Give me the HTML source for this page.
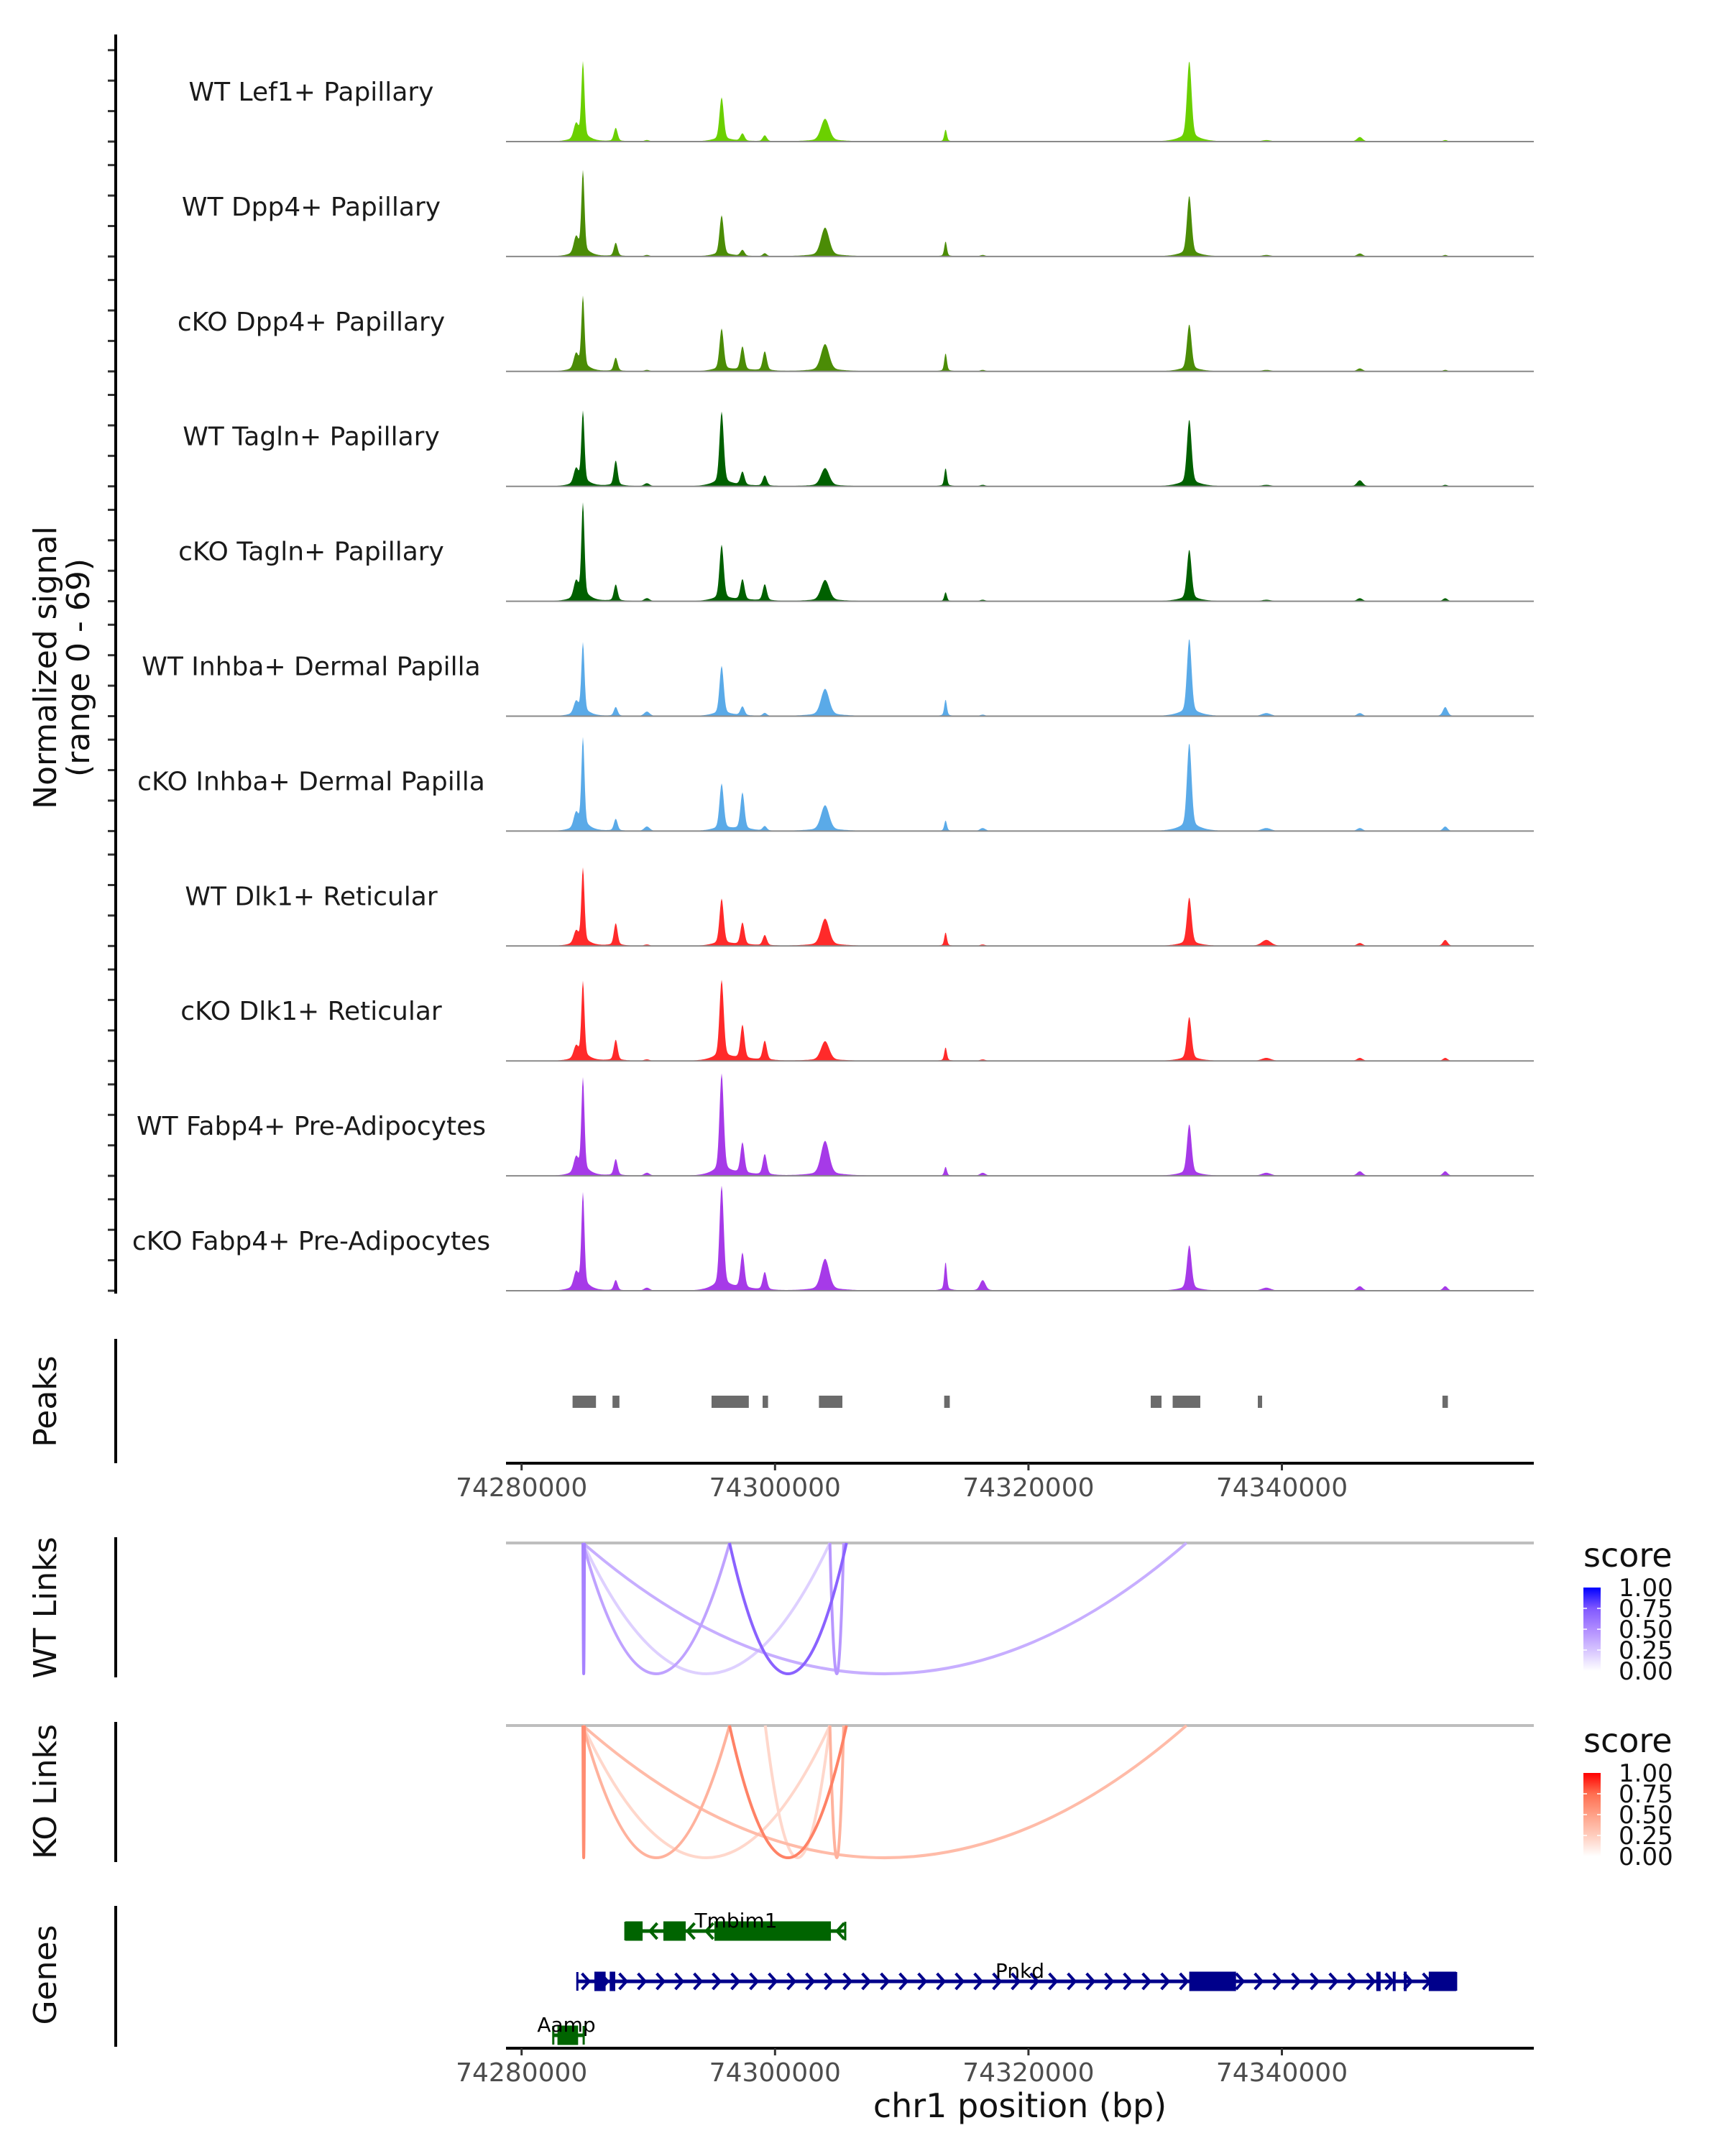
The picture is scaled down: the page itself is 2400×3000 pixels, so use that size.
<!DOCTYPE html>
<html><head><meta charset="utf-8">
<style>
html,body{margin:0;padding:0;background:#fff;}
svg{display:block;font-family:"DejaVu Sans","Liberation Sans",sans-serif;}
</style></head>
<body>
<svg id="chart" width="2400" height="3000" viewBox="0 0 2400 3000" xmlns="http://www.w3.org/2000/svg">
<rect width="2400" height="3000" fill="#fff"/>
<g id="tracks"></g>
<g id="peaks"></g>
<g id="links"></g>
<g id="genes"></g>
<g id="axes"></g>
</svg>
<script>
// ---------- data ----------
const trackNames = ["WT Lef1+ Papillary","WT Dpp4+ Papillary","cKO Dpp4+ Papillary","WT Tagln+ Papillary","cKO Tagln+ Papillary","WT Inhba+ Dermal Papilla","cKO Inhba+ Dermal Papilla","WT Dlk1+ Reticular","cKO Dlk1+ Reticular","WT Fabp4+ Pre-Adipocytes","cKO Fabp4+ Pre-Adipocytes"];
const trackColors = ["#6bd000","#4b8c06","#4b8c06","#006000","#006000","#5aaae8","#5aaae8","#ff2a2a","#ff2a2a","#a63ae8","#a63ae8"];
const peakPos = [74284300,74284840,74287430,74289890,74295786,74297430,74299190,74303950,74313460,74316390,74332690,74338770,74346150,74352890];
const sig0 = [10,52,9,1,29,5,4,15,8,0,53,1,3,1];
const sig1 = [11,56,9,1,27,4,2,19,10,1,40,1,2,1];
const sig2 = [10,49,9,1,28,16,13,18,12,1,31,1,2,1];
const sig3 = [10,49,17,2,49,9,7,12,12,1,44,1,4,1];
const sig4 = [11,64,11,2,37,14,11,14,6,1,34,1,2,2];
const sig5 = [8,48,6,3,33,6,2,18,11,1,51,2,2,6];
const sig6 = [10,61,8,3,31,25,3,17,7,2,58,2,2,3];
const sig7 = [8,51,15,1,31,15,7,18,9,1,32,4,2,4];
const sig8 = [8,52,14,1,53,23,13,13,9,1,29,2,2,2];
const sig9 = [10,64,11,2,67,21,14,23,6,2,34,2,3,3];
const sig10 = [10,64,7,2,69,24,12,21,19,7,30,2,3,3];
const signals = [sig0,sig1,sig2,sig3,sig4,sig5,sig6,sig7,sig8,sig9,sig10];
const peakStarts = [74284022,74287175,74294990,74299020,74303465,74313350,74329650,74331380,74338100,74352670];
const peakEnds   = [74285870,74287720,74297930,74299450,74305315,74313790,74330500,74333560,74338340,74353100];
const linkStarts = [74284840,74284840,74284840,74284840,74296410,74304330];
const linkEnds   = [74284960,74296410,74304330,74332470,74305640,74305420];
const wtScores   = [0.55,0.4,0.2,0.35,0.7,0.45];
const koStartsExtra = [74299230];
const koEndsExtra = [74304330];
const koScores   = [0.6,0.4,0.2,0.35,0.65,0.4,0.2];
const xTicks = [74280000,74300000,74320000,74340000];
const legendTicks = ["1.00","0.75","0.50","0.25","0.00"];

// ---------- scales ----------
const X0 = 725.7, PX_PER_BP = 352.6/20000;
const PLOT_L = 704, PLOT_R = 2134;
function xs(bp){ return X0 + (bp-74280000)*PX_PER_BP; }
const TRACK_TOP = 197, TRACK_STEP = 159.9, PX_PER_UNIT = 2.12;
const NS = "http://www.w3.org/2000/svg";
function mk(tag, attrs, parent){ const e=document.createElementNS(NS,tag); for(const k in attrs) e.setAttribute(k,attrs[k]); parent.appendChild(e); return e; }
function txt(parent, x, y, s, size, fill, anchor, extra){ const t=mk("text",Object.assign({x:x,y:y,"font-size":size,fill:fill,"text-anchor":anchor||"middle"},extra||{}),parent); t.textContent=s; return t; }

// ---------- coverage tracks ----------
const gT = document.getElementById("tracks");
const widths = [260,170,200,300,230,220,220,450,140,300,250,500,300,250];
for(let i=0;i<trackNames.length;i++){
  const base = TRACK_TOP + i*TRACK_STEP;
  const g = mk("g",{},gT);
  
  
  let d = "M"+PLOT_L+","+base;
  const vals = signals[i];
  for(let x=PLOT_L; x<=PLOT_R; x+=1){
    const bp = 74280000 + (x-X0)/PX_PER_BP;
    let v = 0;
    for(let k=0;k<peakPos.length;k++){
      const z = (bp-peakPos[k])/widths[k];
      v += vals[k]*(0.85*Math.exp(-z*z) + 0.15*Math.exp(-Math.abs(z)/3));
    }
    v = Math.min(v,69);
    d += " L"+x+","+(base - v*PX_PER_UNIT).toFixed(1);
  }
  d += " L"+PLOT_R+","+base+" Z";
  const p = mk("path",{d:d,fill:trackColors[i],stroke:"none"},g);
  
  
  const bl = mk("line",{x1:PLOT_L,x2:PLOT_R,y1:base,y2:base,stroke:"#8a8a8a","stroke-width":2},g);
  
  
  const lab = txt(g, 433, base-57, trackNames[i], 36, "#1a1a1a");
  
  
  for(let k=0;k<4;k++){
    const ty = base - k*20*PX_PER_UNIT;
    const tk = mk("line",{x1:150,x2:161,y1:ty,y2:ty,stroke:"#333","stroke-width":3},g);
    
    
  }
}

// ---------- axes ----------
const gA = document.getElementById("axes");
function vline(x,y1,y2,name){ const l=mk("line",{x1:x,x2:x,y1:y1,y2:y2,stroke:"#000","stroke-width":4},gA);   }
vline(161,48,1800,"signal-y-axis");
vline(161,1863,2036,"peaks-y-axis");
vline(161,2139,2334,"wt-links-y-axis");
vline(161,2396,2591,"ko-links-y-axis");
vline(161,2652,2848,"genes-y-axis");
const yl = txt(gA,0,0,"Normalized signal",44,"#111","middle",{transform:"translate(78,929) rotate(-90)"});


const yl2 = txt(gA,0,0,"(range 0 - 69)",44,"#111","middle",{transform:"translate(124,929) rotate(-90)"});


[["Peaks",1950,"peaks-label"],["WT Links",2237,"wt-links-label"],["KO Links",2493,"ko-links-label"],["Genes",2748,"genes-label"]].forEach(a=>{
  const t = txt(gA,0,0,a[0],44,"#111","middle",{transform:"translate(78,"+a[1]+") rotate(-90)"});
  
  
});
function xaxis(y,name){
  const l = mk("line",{x1:PLOT_L,x2:PLOT_R,y1:y,y2:y,stroke:"#000","stroke-width":4},gA);
  
  
  xTicks.forEach(t=>{
    const tk = mk("line",{x1:xs(t),x2:xs(t),y1:y,y2:y+10,stroke:"#333","stroke-width":3},gA);
    
    
    const tl = txt(gA,xs(t),y+46,String(t),36,"#4d4d4d");
    
    
  });
}
xaxis(2036,"peaks-x-axis");
xaxis(2850,"genes-x-axis");
const xt = txt(gA,1419,2946,"chr1 position (bp)",46,"#111");



// ---------- peaks ----------
const gP = document.getElementById("peaks");
for(let i=0;i<peakStarts.length;i++){
  const r = mk("rect",{x:xs(peakStarts[i]),y:1942,width:Math.max(6,xs(peakEnds[i])-xs(peakStarts[i])),height:17,fill:"#6b6b6b"},gP);
  
  
}

// ---------- links ----------
const gL = document.getElementById("links");
function lerp(a,b,t){ return Math.round(a+(b-a)*t); }
function grad(stops,s){
  const n=stops.length-1; const p=Math.min(n-1e-9,Math.max(0,s*n)); const i=Math.floor(p); const t=p-i;
  const a=stops[i], b=stops[i+1];
  return "rgb("+lerp(a[0],b[0],t)+","+lerp(a[1],b[1],t)+","+lerp(a[2],b[2],t)+")";
}
const blueStops=[[255,255,255],[214,196,255],[176,140,255],[128,88,255],[0,0,255]];
const redStops=[[255,255,255],[255,205,190],[255,160,135],[255,110,80],[255,0,0]];
function drawLinks(starts,ends,scores,base,bottom,stops,name){
  const g = mk("g",{},gL);
  
  
  const bl = mk("line",{x1:PLOT_L,x2:PLOT_R,y1:base,y2:base,stroke:"#bebebe","stroke-width":4},g);
  
  
  const order = scores.map((s,i)=>i).sort((a,b)=>scores[a]-scores[b]);
  order.forEach(i=>{
    const x1=xs(starts[i]), x2=xs(ends[i]), depth=bottom-base;
    const d="M"+x1+","+base+" Q"+((x1+x2)/2)+","+(base+2*depth)+" "+x2+","+base;
    const p = mk("path",{d:d,fill:"none",stroke:grad(stops,scores[i]),"stroke-width":4},g);
    
    
  });
}
drawLinks(linkStarts,linkEnds,wtScores,2147,2329,blueStops,"wt-links");
drawLinks(linkStarts.concat(koStartsExtra),linkEnds.concat(koEndsExtra),koScores,2401,2585,redStops,"ko-links");

// legends
const defs = mk("defs",{},document.getElementById("chart"));
function legend(y0,stops,id,name){
  const lg = mk("linearGradient",{id:id,x1:0,y1:1,x2:0,y2:0},defs);
  stops.forEach((c,i)=>mk("stop",{offset:(i/(stops.length-1)),"stop-color":"rgb("+c.join(",")+")"},lg));
  const g = mk("g",{},gL);
  
  
  const t = txt(g,2203,y0-29,"score",46,"#111","start");
  
  
  const r = mk("rect",{x:2203,y:y0,width:24,height:116,fill:"url(#"+id+")"},g);
  
  
  legendTicks.forEach((s,i)=>{
    const ty = y0 + i*29;
    if(i>0 && i<4){
      const tk1 = mk("line",{x1:2203,x2:2208,y1:ty,y2:ty,stroke:"#fff","stroke-width":1.5},g);
      
      
      const tk2 = mk("line",{x1:2222,x2:2227,y1:ty,y2:ty,stroke:"#fff","stroke-width":1.5},g);
      
      
    }
    const l = txt(g,2252,ty+12,s,34,"#111","start");
    
    
  });
}
legend(2209,blueStops,"gw","wt-score-legend");
legend(2467,redStops,"gr","ko-score-legend");

// ---------- genes ----------
const geneNames = ["Tmbim1","Pnkd","Aamp"];
const geneStarts = [74288190,74284400,74282500];
const geneEnds = [74305540,74353750,74284900];
const geneStrands = [-1,1,-1];
const geneRowY = [2687,2757,2832];
const geneColors = ["#006400","#00008b","#006400"];
const geneLabelX = [1024,1419,788];
const exonGene = [0,0,0,1,1,1,1,1,1,1,2];
const exonStarts = [74288190,74291190,74295220,74285745,74286955,74332690,74347450,74348750,74349620,74351590,74282830];
const exonEnds   = [74289550,74292950,74304410,74286630,74287390,74336380,74347790,74348950,74349800,74353750,74284460];
const gG = document.getElementById("genes");
for(let i=0;i<geneNames.length;i++){
  const g = mk("g",{},gG);
  
  
  const y = geneRowY[i], c = geneColors[i];
  const ln = mk("line",{x1:xs(geneStarts[i]),x2:xs(geneEnds[i]),y1:y,y2:y,stroke:c,"stroke-width":5},g);
  
  
  for(let bp=geneStarts[i]+700; bp<geneEnds[i]-300; bp+=1475){
    const ax = xs(bp), dir = geneStrands[i];
    const a = mk("path",{d:"M"+(ax-6*dir)+","+(y-11)+" L"+(ax+4*dir)+","+y+" L"+(ax-6*dir)+","+(y+11),fill:"none",stroke:c,"stroke-width":4},g);
    
    
  }
  [geneStarts[i],geneEnds[i]].forEach(bp=>{
    const e = mk("line",{x1:xs(bp),x2:xs(bp),y1:y-13,y2:y+13,stroke:c,"stroke-width":3},g);
    
    
  });
  for(let e=0;e<exonGene.length;e++){
    if(exonGene[e]!==i) continue;
    const r = mk("rect",{x:xs(exonStarts[e]),y:y-13.5,width:Math.max(4,xs(exonEnds[e])-xs(exonStarts[e])),height:27,fill:c},g);
    
    
  }
  const lab = txt(g,geneLabelX[i],y-5,geneNames[i],28,"#000");
  
  
}
</script>
</body></html>
